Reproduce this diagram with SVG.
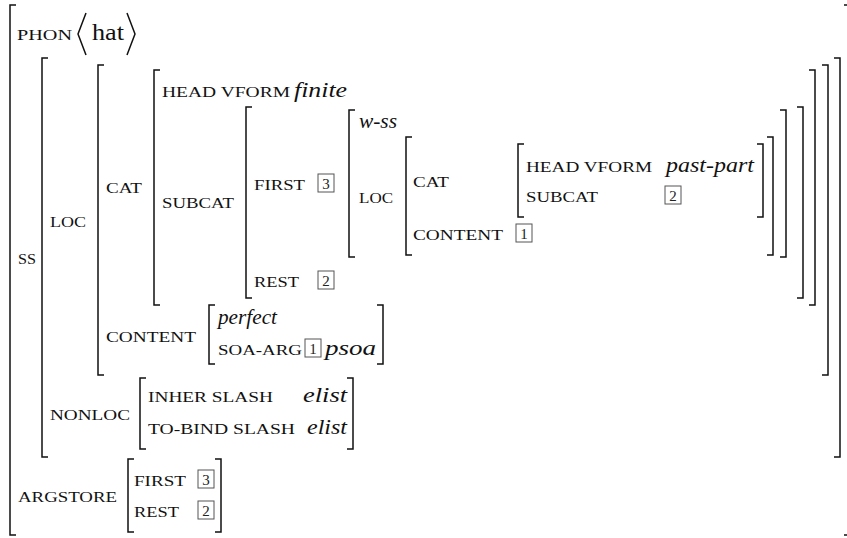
<svg xmlns="http://www.w3.org/2000/svg" width="847" height="538" viewBox="0 0 847 538">
<style>
text{font-family:'Liberation Serif','DejaVu Serif','Times New Roman',Times,serif;fill:#111}
.sc{font-size:15.5px}
.it{font-style:italic;font-size:22px}
.rm{font-size:23px}
.num{font-size:15px;fill:#222;text-anchor:middle}
.br{fill:none;stroke:#111;stroke-width:1.5}
.box{fill:none;stroke:#555;stroke-width:1}
</style>
<rect width="847" height="538" fill="#fff"/>
<g id="brackets">
<path class="br" d="M16 5H10V535H16"/>
<path class="br" d="M844 5H850V535H844"/>
<path class="br" d="M48 58H42V457H48"/>
<path class="br" d="M834 58H840V457H834"/>
<path class="br" d="M104 65H98V375H104"/>
<path class="br" d="M822 65H828V375H822"/>
<path class="br" d="M160 70H154V305H160"/>
<path class="br" d="M809 70H815V305H809"/>
<path class="br" d="M252 107H246V298H252"/>
<path class="br" d="M797 107H803V298H797"/>
<path class="br" d="M355 110H349V257H355"/>
<path class="br" d="M780 110H786V257H780"/>
<path class="br" d="M412 137H406V255H412"/>
<path class="br" d="M767 137H773V255H767"/>
<path class="br" d="M524 144H518V217H524"/>
<path class="br" d="M757 144H763V217H757"/>
<path class="br" d="M215 305H209V364H215"/>
<path class="br" d="M377 305H383V364H377"/>
<path class="br" d="M146 378H140V449H146"/>
<path class="br" d="M347 378H353V449H347"/>
<path class="br" d="M134 459H128V532H134"/>
<path class="br" d="M215 459H221V532H215"/>
<path class="br" d="M86 13L78 34L86 55"/>
<path class="br" d="M127 13L135 34L127 55"/>
</g>
<g id="phon">
<text class="sc" x="17" y="40" textLength="55" lengthAdjust="spacingAndGlyphs">PHON</text>
<text class="rm" x="92" y="40" textLength="32" lengthAdjust="spacingAndGlyphs">hat</text>
</g>
<g id="ss">
<text class="sc" x="18" y="264" textLength="18" lengthAdjust="spacingAndGlyphs">SS</text>
<text class="sc" x="50" y="227" textLength="36" lengthAdjust="spacingAndGlyphs">LOC</text>
<text class="sc" x="106" y="193" textLength="36" lengthAdjust="spacingAndGlyphs">CAT</text>
<text class="sc" x="162" y="97" textLength="128" lengthAdjust="spacingAndGlyphs">HEAD VFORM</text>
<text class="it" x="294" y="97" textLength="53" lengthAdjust="spacingAndGlyphs">finite</text>
<text class="sc" x="162" y="208" textLength="72" lengthAdjust="spacingAndGlyphs">SUBCAT</text>
<text class="sc" x="254" y="190" textLength="51" lengthAdjust="spacingAndGlyphs">FIRST</text>
<rect class="box" x="318" y="174" width="16" height="18"/>
<text class="num" x="326" y="189">3</text>
<text class="sc" x="254" y="287" textLength="45" lengthAdjust="spacingAndGlyphs">REST</text>
<rect class="box" x="318" y="271" width="16" height="18"/>
<text class="num" x="326" y="286">2</text>
</g>
<g id="wss">
<text class="it" x="359" y="128" textLength="38" lengthAdjust="spacingAndGlyphs">w-ss</text>
<text class="sc" x="359" y="203" textLength="34" lengthAdjust="spacingAndGlyphs">LOC</text>
<text class="sc" x="413" y="187" textLength="36" lengthAdjust="spacingAndGlyphs">CAT</text>
<text class="sc" x="413" y="240" textLength="90" lengthAdjust="spacingAndGlyphs">CONTENT</text>
<rect class="box" x="516" y="224" width="16" height="18"/>
<text class="num" x="524" y="239">1</text>
<text class="sc" x="526" y="172" textLength="126" lengthAdjust="spacingAndGlyphs">HEAD VFORM</text>
<text class="it" x="666" y="172" textLength="88" lengthAdjust="spacingAndGlyphs">past-part</text>
<text class="sc" x="526" y="202" textLength="72" lengthAdjust="spacingAndGlyphs">SUBCAT</text>
<rect class="box" x="665" y="186" width="16" height="18"/>
<text class="num" x="673" y="201">2</text>
</g>
<g id="content">
<text class="sc" x="106" y="342" textLength="90" lengthAdjust="spacingAndGlyphs">CONTENT</text>
<text class="it" x="218" y="324" textLength="59" lengthAdjust="spacingAndGlyphs">perfect</text>
<text class="sc" x="218" y="355" textLength="84" lengthAdjust="spacingAndGlyphs">SOA-ARG</text>
<rect class="box" x="305" y="339" width="16" height="18"/>
<text class="num" x="313" y="354">1</text>
<text class="it" x="325" y="355" textLength="51" lengthAdjust="spacingAndGlyphs">psoa</text>
</g>
<g id="nonloc">
<text class="sc" x="50" y="420" textLength="80" lengthAdjust="spacingAndGlyphs">NONLOC</text>
<text class="sc" x="148" y="402" textLength="125" lengthAdjust="spacingAndGlyphs">INHER SLASH</text>
<text class="it" x="303" y="402" textLength="44" lengthAdjust="spacingAndGlyphs">elist</text>
<text class="sc" x="148" y="434" textLength="147" lengthAdjust="spacingAndGlyphs">TO-BIND SLASH</text>
<text class="it" x="307" y="434" textLength="40" lengthAdjust="spacingAndGlyphs">elist</text>
</g>
<g id="argstore">
<text class="sc" x="18" y="502" textLength="99" lengthAdjust="spacingAndGlyphs">ARGSTORE</text>
<text class="sc" x="134" y="486" textLength="52" lengthAdjust="spacingAndGlyphs">FIRST</text>
<rect class="box" x="198" y="470" width="16" height="18"/>
<text class="num" x="206" y="485">3</text>
<text class="sc" x="134" y="517" textLength="45" lengthAdjust="spacingAndGlyphs">REST</text>
<rect class="box" x="198" y="501" width="16" height="18"/>
<text class="num" x="206" y="516">2</text>
</g>
</svg>
